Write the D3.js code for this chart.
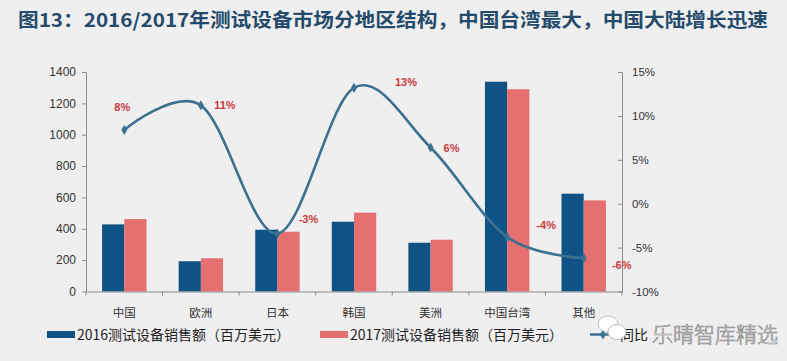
<!DOCTYPE html>
<html><head><meta charset="utf-8">
<script src="https://cdn.jsdelivr.net/npm/d3@7"></script>
<style>
html,body{margin:0;padding:0;background:#efefef;}
svg{display:block;}
</style></head>
<body>
<svg id="chart" width="787" height="361"></svg>
<script>
const title = "图13：2016/2017年测试设备市场分地区结构，中国台湾最大，中国大陆增长迅速";
const categories = ["中国","欧洲","日本","韩国","美洲","中国台湾","其他"];
const sales2016 = [428, 193, 394, 445, 311, 1338, 624];
const sales2017 = [462, 212, 381, 503, 330, 1290, 581];
const growth = [0.084, 0.112, -0.034, 0.132, 0.064, -0.038, -0.062];
const leftTicks = [0,200,400,600,800,1000,1200,1400];
const rightTicks = [-0.10,-0.05,0,0.05,0.10,0.15];
const seriesNames = ["2016测试设备销售额（百万美元）","2017测试设备销售额（百万美元）","同比"];
const watermark = "乐晴智库精选";
// label layout offsets (dx, dy) relative to each line point
const labelOffsets = [[-2,-19],[24,4],[31,-11],[52,-2],[21,4],[39,-8],[38,11]];

const C16 = "#0f5386", C17 = "#e57070", CL = "#3c7090", CLab = "#c93a40";
const svg = d3.select("#chart");
const L = 86, R = 622, T = 72, B = 291.5;
const loc = d3.formatLocale({decimal:".", thousands:"", grouping:[3], currency:["",""], minus:"-"});
const pct = loc.format(".0%");
const num = loc.format("d");

svg.append("rect").attr("width",787).attr("height",361).attr("fill","#efefef");

svg.append("text").attr("x",18).attr("y",27)
  .attr("font-family","'Noto Sans CJK SC', sans-serif").attr("font-weight","bold")
  .attr("font-size",19).attr("fill","#254b6c")
  .attr("textLength",750).attr("lengthAdjust","spacingAndGlyphs")
  .text(title);

const x = d3.scaleBand().domain(categories).range([L,R]);
const y = d3.scaleLinear().domain([0,1400]).range([B,T]);
const y2 = d3.scaleLinear().domain([-0.10,0.15]).range([B,T]);
const bw = x.bandwidth()*0.29;

// bars
const g = svg.append("g");
g.selectAll(".b16").data(categories).join("rect")
  .attr("x",(d)=>x(d)+x.bandwidth()/2-bw).attr("width",bw)
  .attr("y",(d,i)=>y(sales2016[i])).attr("height",(d,i)=>B-y(sales2016[i]))
  .attr("fill",C16);
g.selectAll(".b17").data(categories).join("rect")
  .attr("x",(d)=>x(d)+x.bandwidth()/2).attr("width",bw)
  .attr("y",(d,i)=>y(sales2017[i])).attr("height",(d,i)=>B-y(sales2017[i]))
  .attr("fill",C17);

// axes
const axisColor = "#8a8a8a";
const ya = svg.append("g").attr("transform",`translate(${L},0)`)
  .call(d3.axisLeft(y).tickValues(leftTicks).tickFormat(num).tickSizeInner(4).tickSizeOuter(0).tickPadding(6));
const y2a = svg.append("g").attr("transform",`translate(${R},0)`)
  .call(d3.axisRight(y2).tickValues(rightTicks).tickFormat(pct).tickSizeInner(-4).tickSizeOuter(0).tickPadding(10));
[ya,y2a].forEach(a=>{
  a.selectAll("path,line").attr("stroke",axisColor);
  a.selectAll("text").attr("font-family","'Liberation Sans', Arial, sans-serif").attr("fill","#333");
});
ya.selectAll("text").attr("font-size",12);
y2a.selectAll("text").attr("font-size",11.5);

// x axis
const xa = svg.append("g").attr("transform",`translate(0,${B})`)
  .call(d3.axisBottom(x).tickSize(0).tickPadding(17));
xa.select("path").attr("stroke",axisColor);
xa.selectAll("text").attr("font-family","'Noto Sans CJK SC', sans-serif").attr("font-size",11.5).attr("fill","#333");
const bounds = categories.map(d=>x(d)).concat([R]);
svg.append("g").selectAll("line").data(bounds).join("line")
  .attr("x1",d=>d).attr("x2",d=>d).attr("y1",B).attr("y2",B+4).attr("stroke",axisColor);

// line
const pts = categories.map((c,i)=>[x(c)+x.bandwidth()/2, y2(growth[i])]);
svg.append("path").attr("d",d3.line().curve(d3.curveCatmullRom.alpha(0))(pts))
  .attr("fill","none").attr("stroke",CL).attr("stroke-width",2.6);
svg.append("g").selectAll("path").data(pts).join("path")
  .attr("d",d3.symbol().type(d3.symbolDiamond).size(30))
  .attr("transform",d=>`translate(${d[0]},${d[1]})`).attr("fill",CL);

// data labels
svg.append("g").selectAll("text").data(pts).join("text")
  .attr("x",(d,i)=>d[0]+labelOffsets[i][0]).attr("y",(d,i)=>d[1]+labelOffsets[i][1])
  .attr("text-anchor","middle").attr("font-family","'Liberation Sans', Arial, sans-serif")
  .attr("font-size",11).attr("font-weight","bold").attr("fill",CLab)
  .text((d,i)=>pct(growth[i]));

// legend
const lg = svg.append("g").attr("font-family","'Noto Sans CJK SC', sans-serif").attr("font-size",14).attr("fill","#222");
lg.append("rect").attr("x",47).attr("y",331).attr("width",28).attr("height",7).attr("fill",C16);
lg.append("text").attr("x",77).attr("y",339.5).text(seriesNames[0]);
lg.append("rect").attr("x",320).attr("y",331).attr("width",28).attr("height",7).attr("fill",C17);
lg.append("text").attr("x",350).attr("y",339.5).text(seriesNames[1]);
lg.append("line").attr("x1",590).attr("x2",616).attr("y1",334.5).attr("y2",334.5).attr("stroke",CL).attr("stroke-width",2.5);
lg.append("path").attr("d",d3.symbol().type(d3.symbolDiamond).size(30)).attr("transform","translate(603,334.5)").attr("fill",CL);
lg.append("text").attr("x",620).attr("y",339.5).text(seriesNames[2]);

// watermark
const wm = svg.append("g");
wm.append("ellipse").attr("cx",608).attr("cy",324).attr("rx",10).attr("ry",8).attr("fill","#fff").attr("stroke","#bbb");
wm.append("ellipse").attr("cx",617).attr("cy",332).attr("rx",9).attr("ry",7.5).attr("fill","#fff").attr("stroke","#bbb");
wm.append("text").attr("x",652).attr("y",342).attr("font-family","'Noto Sans CJK SC', sans-serif")
  .attr("font-size",21).attr("font-weight",300).attr("fill","#fff").attr("stroke","#8c8c8c").attr("stroke-width",0.7)
  .text(watermark);
</script>
</body></html>
